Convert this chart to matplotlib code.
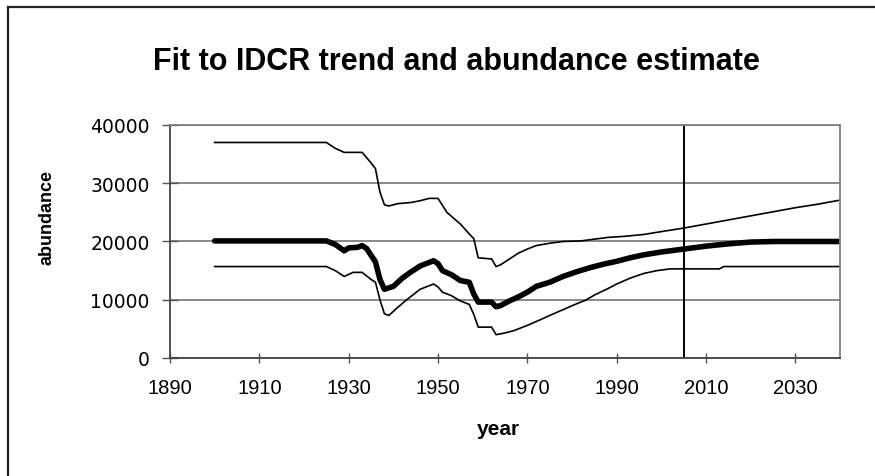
import matplotlib
matplotlib.use("Agg")
import matplotlib.pyplot as plt
from matplotlib.lines import Line2D

# ---- data -------------------------------------------------------------
upper_years = [1900, 1925, 1927, 1929, 1933, 1935, 1936, 1937, 1938, 1939, 1941,
               1944, 1946, 1948, 1950, 1952, 1955, 1957, 1958, 1959, 1962, 1963,
               1964, 1966, 1968, 1970, 1972, 1975, 1978, 1982, 1985, 1988, 1992,
               1996, 2000, 2005, 2010, 2015, 2020, 2025, 2030, 2035, 2040]
upper_vals = [37000, 37000, 36000, 35300, 35300, 33500, 32500, 28500, 26300, 26100, 26500,
              26700, 27000, 27400, 27400, 25000, 23000, 21300, 20500, 17200, 17000, 15700,
              16000, 17000, 18000, 18700, 19300, 19700, 20000, 20100, 20400, 20700, 20900,
              21200, 21700, 22300, 23000, 23700, 24400, 25100, 25800, 26400, 27100]

best_years = [1900, 1925, 1927, 1929, 1930, 1932, 1933, 1934, 1936, 1937, 1938,
              1940, 1942, 1944, 1946, 1948, 1949, 1950, 1951, 1953, 1955, 1957,
              1958, 1959, 1962, 1963, 1964, 1966, 1968, 1970, 1972, 1975, 1978,
              1981, 1984, 1987, 1990, 1993, 1996, 2000, 2005, 2010, 2015, 2020,
              2025, 2040]
best_vals = [20100, 20100, 19500, 18400, 18900, 19000, 19300, 18800, 16500, 13500, 11800,
             12300, 13700, 14800, 15800, 16400, 16700, 16200, 15000, 14300, 13300, 13000,
             11000, 9600, 9600, 8800, 9000, 9800, 10500, 11300, 12300, 13000, 14000,
             14800, 15500, 16100, 16600, 17200, 17700, 18200, 18700, 19200, 19600, 19900,
             20000, 20000]

lower_years = [1900, 1925, 1927, 1929, 1931, 1933, 1935, 1936, 1937, 1938, 1939,
               1941, 1943, 1946, 1949, 1950, 1951, 1953, 1955, 1957, 1958, 1959,
               1962, 1963, 1965, 1967, 1970, 1973, 1975, 1978, 1981, 1983, 1985,
               1988, 1990, 1993, 1996, 1999, 2002, 2013, 2014, 2040]
lower_vals = [15700, 15700, 15000, 14000, 14700, 14700, 13500, 13000, 10000, 7600, 7300,
              8700, 10000, 11800, 12700, 12200, 11300, 10700, 9800, 9200, 7500, 5300,
              5300, 4000, 4300, 4700, 5600, 6600, 7300, 8300, 9300, 9900, 10800,
              11900, 12700, 13700, 14500, 15000, 15300, 15300, 15700, 15700]

current_year = 2005
x_ticks = [1890, 1910, 1930, 1950, 1970, 1990, 2010, 2030]
y_ticks = [0, 10000, 20000, 30000, 40000]

# ---- figure -----------------------------------------------------------
fig = plt.figure(figsize=(8.75, 4.77), dpi=100)
ax = fig.add_axes([170 / 875, 1 - 359 / 477, 670 / 875, 233 / 477])

ax.plot(upper_years, upper_vals, color="black", lw=1.2, solid_joinstyle="round")
ax.plot(lower_years, lower_vals, color="black", lw=1.2, solid_joinstyle="round")
ax.plot(best_years, best_vals, color="black", lw=4.0, solid_joinstyle="round",
        solid_capstyle="round")
ax.axvline(current_year, color="black", lw=1.4)

ax.set_xlim(1890, 2040)
ax.set_ylim(0, 40000)
ax.set_xticks(x_ticks)
ax.set_yticks(y_ticks)
ax.set_xticklabels([str(v) for v in x_ticks], family="Liberation Sans", fontsize=14.5)
ax.set_yticklabels([str(v) for v in y_ticks], family="DejaVu Sans", fontsize=13.5)
ax.tick_params(axis="x", direction="inout", length=7, width=1, color="#555555", pad=11)
ax.tick_params(axis="y", direction="inout", length=11, width=1, color="#555555", pad=9)

ax.grid(axis="y", color="#808080", lw=1.3)
ax.set_axisbelow(True)
for side in ["top", "right"]:
    ax.spines[side].set_color("#808080")
    ax.spines[side].set_linewidth(1.3)
for side in ["left", "bottom"]:
    ax.spines[side].set_color("#444444")
    ax.spines[side].set_linewidth(1.3)

fig.text(456 / 875, 1 - 62 / 477, "Fit to IDCR trend and abundance estimate",
         family="Liberation Sans", fontweight="bold", fontsize=22,
         ha="center", va="center")
fig.text(47 / 875, 1 - 218 / 477, "abundance", family="Liberation Sans",
         fontweight="bold", fontsize=13, rotation=90, ha="center", va="center")
fig.text(498 / 875, 1 - 430 / 477, "year", family="Liberation Sans",
         fontweight="bold", fontsize=15, ha="center", va="center")

# chart-area frame (top and left edges)
fig.add_artist(Line2D([7.5 / 875, 1], [1 - 7.5 / 477, 1 - 7.5 / 477],
                      transform=fig.transFigure, color="#222222", lw=1.6))
fig.add_artist(Line2D([7.5 / 875, 7.5 / 875], [0, 1 - 7.5 / 477],
                      transform=fig.transFigure, color="#222222", lw=1.6))

fig.savefig("out.png", dpi=100)
